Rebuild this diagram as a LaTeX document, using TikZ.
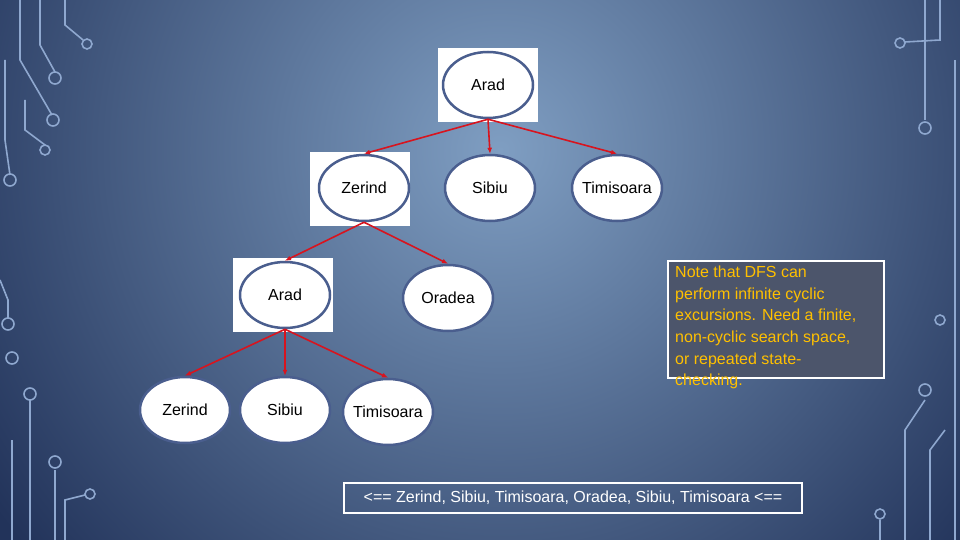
\documentclass[tikz,border=0pt]{standalone}
\usepackage{fontspec}
\setmainfont{Liberation Sans}
\usetikzlibrary{shapes.geometric,arrows.meta}
\definecolor{bgdark}{HTML}{22335A}
\definecolor{bglight}{HTML}{7F9EC2}
\definecolor{edgec}{HTML}{4A5E8E}
\definecolor{arr}{HTML}{D8141E}
\definecolor{circ}{HTML}{8FA8CF}
\definecolor{notec}{HTML}{FFC000}
\tikzset{
  st/.style={ellipse,draw=edgec,line width=2.5pt,fill=white,minimum width=90pt,minimum height=66pt,font=\fontsize{16}{18}\selectfont,inner sep=-12pt},
  wb/.style={fill=white,draw=none},
  ar/.style={draw=arr,line width=1.6pt,-{Latex[length=6pt,width=5pt]}},
  ck/.style={draw=circ,line width=1.6pt},
  cd/.style={draw=circ,line width=1.6pt,fill=none}
}
\begin{document}
\begin{tikzpicture}[x=1pt,y=-1pt]
\useasboundingbox (0,0) rectangle (960,540);
\fill[bgdark] (0,0) rectangle (960,540);
\begin{scope}
\clip (0,0) rectangle (960,540);
\shade[inner color=bglight,outer color=bgdark] (500,150) circle (620);
\draw[ck] (20,0)--(20,60)--(52,115);
\draw[cd] (53,120) circle (6);
\draw[ck] (40,0)--(40,45)--(55,72);
\draw[cd] (55,78) circle (6);
\draw[ck] (65,0)--(65,25)--(83,40);
\draw[cd] (87,44) circle (5);
\draw[ck] (5,60)--(5,140)--(10,175);
\draw[cd] (10,180) circle (6);
\draw[ck] (25,100)--(25,130)--(45,145);
\draw[cd] (45,150) circle (5);
\draw[ck] (0,280)--(8,300)--(8,318);
\draw[cd] (8,324) circle (6);
\draw[ck] (12,440)--(12,540);
\draw[ck] (30,400)--(30,540);
\draw[cd] (30,394) circle (6);
\draw[ck] (55,470)--(55,540);
\draw[cd] (55,462) circle (6);
\draw[ck] (65,540)--(65,500)--(85,495);
\draw[cd] (90,494) circle (5);
\draw[cd] (12,358) circle (6);
\draw[ck] (940,0)--(940,40)--(905,42);
\draw[cd] (900,43) circle (5);
\draw[ck] (925,0)--(925,120);
\draw[cd] (925,128) circle (6);
\draw[ck] (955,60)--(955,540);
\draw[ck] (905,540)--(905,430)--(925,400);
\draw[cd] (925,390) circle (6);
\draw[ck] (930,540)--(930,450)--(945,430);
\draw[ck] (880,540)--(880,520);
\draw[cd] (880,514) circle (5);
\draw[cd] (940,320) circle (5);
\end{scope}
\fill[wb] (438,48) rectangle (538,122);
\fill[wb] (310,152) rectangle (410,226);
\fill[wb] (233,258) rectangle (333,332);
\node[st] (a1) at (488,85) {Arad};
\node[st] (z1) at (364,188) {Zerind};
\node[st] (s1) at (490,188) {Sibiu};
\node[st] (t1) at (617,188) {Timisoara};
\node[st] (a2) at (285,295) {Arad};
\node[st] (o2) at (448,298) {Oradea};
\node[st] (z3) at (185,410) {Zerind};
\node[st] (s3) at (285,410) {Sibiu};
\node[st] (t3) at (388,412) {Timisoara};
\draw[ar] (a1.south) -- (z1.north);
\draw[ar] (a1.south) -- (s1.north);
\draw[ar] (a1.south) -- (t1.north);
\draw[ar] (z1.south) -- (a2.north);
\draw[ar] (z1.south) -- (o2.north);
\draw[ar] (a2.south) -- (z3.north);
\draw[ar] (a2.south) -- (s3.north);
\draw[ar] (a2.south) -- (t3.north);
\fill[bgdark!55!gray,draw=white,line width=1.5pt] (668,261) rectangle (884,378);
\node[text=notec,anchor=north west,align=left,inner sep=0pt,font=\fontsize{16}{21.6}\selectfont] (note) at (675,266) {Note that DFS can\\perform infinite cyclic\\excursions. Need a finite,\\non-cyclic search space,\\or repeated state-\\checking.};
\node[draw=white,line width=2pt,text=white,minimum width=458pt,minimum height=30pt,font=\fontsize{16}{18}\selectfont] (seq) at (573,498) {<== Zerind, Sibiu, Timisoara, Oradea, Sibiu, Timisoara <==};
\end{tikzpicture}
\end{document}
